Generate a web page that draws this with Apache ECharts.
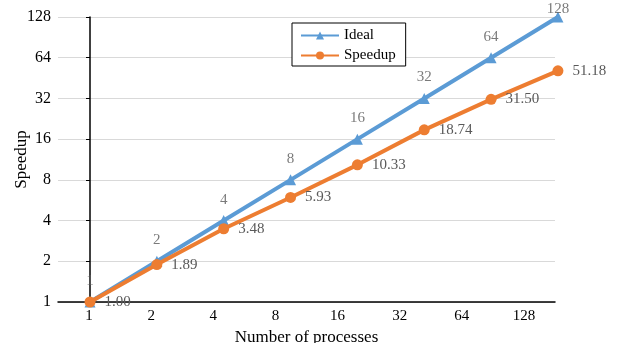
<!DOCTYPE html>
<html>
<head>
<meta charset="utf-8">
<script src="https://cdn.jsdelivr.net/npm/echarts@6/dist/echarts.min.js"></script>
<style>
  html, body { margin: 0; padding: 0; background: #fff; }
  #chart { width: 620px; height: 343px; }
</style>
</head>
<body>
<div id="chart"></div>
<script>
// process counts shown on the x axis
const processes = ['1', '2', '4', '8', '16', '32', '64', '128'];
const ideal = [1, 2, 4, 8, 16, 32, 64, 128];
const speedup = [1.00, 1.89, 3.48, 5.93, 10.33, 18.74, 31.50, 51.18];

const serif = '"Liberation Serif", "Times New Roman", serif';
const chart = echarts.init(document.getElementById('chart'));

// points sit on a hidden value axis (index), labels on a category axis
const toPoints = arr => arr.map((v, i) => [i, v]);

// ideal labels drawn by a bare scatter; the last one hugs its marker like the original
const idealLabels = toPoints(ideal).map((p, i) =>
  i === ideal.length - 1 ? { value: p, label: { distance: 0 } } : { value: p });

chart.setOption({
  animation: false,
  textStyle: { fontFamily: serif },
  grid: { left: 58, right: 65, top: 17, bottom: 41, containLabel: false, outerBoundsMode: 'none' },
  legend: {
    orient: 'vertical',
    left: 292, top: 23,
    borderColor: '#000', borderWidth: 1,
    padding: [5, 10, 3, 8],
    itemWidth: 38, itemHeight: 10, itemGap: 5,
    backgroundColor: '#fff',
    textStyle: { fontFamily: serif, fontSize: 15, color: '#000' },
    data: ['Ideal', 'Speedup']
  },
  xAxis: [{
    type: 'category',
    data: processes,
    boundaryGap: true,
    name: 'Number of processes',
    nameLocation: 'middle',
    nameGap: 24,
    nameTextStyle: { fontFamily: serif, fontSize: 17, color: '#000' },
    axisLine: { lineStyle: { color: '#000', width: 1.5 } },
    axisTick: { alignWithLabel: true, inside: true, length: 4, lineStyle: { color: '#000' } },
    axisLabel: { fontFamily: serif, fontSize: 15, color: '#000', margin: 7 },
    splitLine: { show: false }
  }, {
    type: 'value',
    show: false,
    min: -0.4787,
    max: 6.956
  }],
  yAxis: {
    type: 'log',
    logBase: 2,
    min: 1,
    max: 128,
    name: 'Speedup',
    nameLocation: 'middle',
    nameGap: 28,
    nameMoveOverlap: false,
    nameTextStyle: { fontFamily: serif, fontSize: 17, color: '#000' },
    axisLine: { show: true, lineStyle: { color: '#000', width: 1.5 } },
    axisTick: { show: true, length: 4, lineStyle: { color: '#000' } },
    axisLabel: { fontFamily: serif, fontSize: 16, color: '#000', margin: 7 },
    splitLine: { show: true, lineStyle: { color: '#d9d9d9', width: 1 } },
    minorTick: { show: false }
  },
  series: [{
    name: 'Ideal',
    type: 'line',
    xAxisIndex: 1,
    data: toPoints(ideal),
    clip: false,
    symbol: 'triangle',
    symbolSize: 11,
    itemStyle: { color: '#5b9bd5' },
    lineStyle: { color: '#5b9bd5', width: 4 },
    z: 4
  }, {
    name: 'Speedup',
    type: 'line',
    xAxisIndex: 1,
    data: toPoints(speedup),
    clip: false,
    symbol: 'circle',
    symbolSize: 11,
    itemStyle: { color: '#ed7d31' },
    lineStyle: { color: '#ed7d31', width: 4 },
    label: {
      show: true, position: 'right', distance: 9,
      fontFamily: serif, fontSize: 15, color: '#595959',
      formatter: p => p.value[1].toFixed(2)
    },
    z: 5
  }, {
    name: 'idealLabels',
    type: 'scatter',
    xAxisIndex: 1,
    data: idealLabels,
    clip: false,
    symbolSize: 1,
    itemStyle: { color: 'rgba(0,0,0,0)' },
    silent: true,
    label: {
      show: true, position: 'top', distance: 13,
      fontFamily: serif, fontSize: 15, color: '#595959',
      formatter: p => String(p.value[1])
    },
    z: 6
  }]
});
</script>
</body>
</html>
